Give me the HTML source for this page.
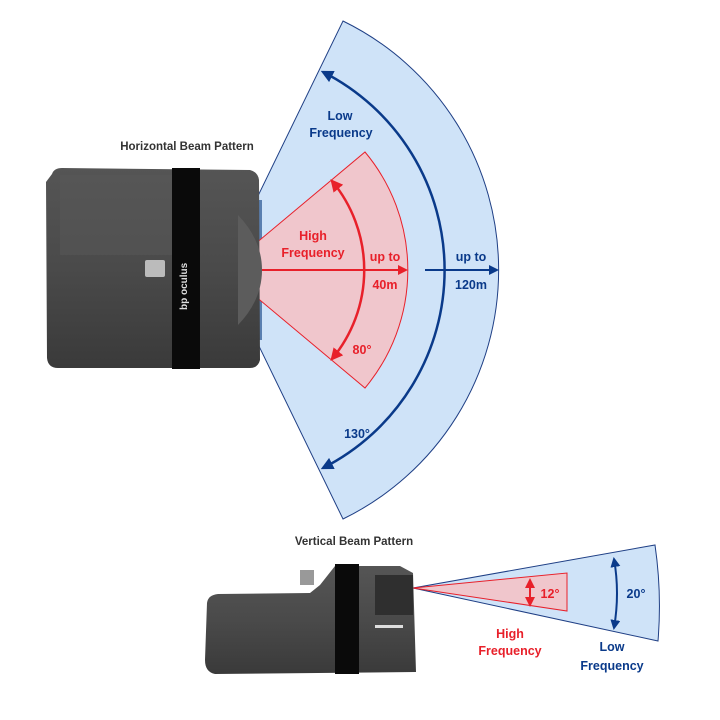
<!DOCTYPE html>
<html><head><meta charset="utf-8"><style>
html,body{margin:0;padding:0;background:#fff;}
svg{display:block;font-family:"Liberation Sans",sans-serif;font-weight:bold;}
</style></head><body>
<svg width="720" height="720" viewBox="0 0 720 720">
<defs>
<marker id="ab" viewBox="0 0 10 10" refX="8" refY="5" markerWidth="5" markerHeight="5" orient="auto-start-reverse"><path d="M0,0 L10,5 L0,10 z" fill="#0a3a8a"/></marker>
<marker id="ar" viewBox="0 0 10 10" refX="8" refY="5" markerWidth="5" markerHeight="5" orient="auto-start-reverse"><path d="M0,0 L10,5 L0,10 z" fill="#e8202a"/></marker>
<linearGradient id="dev" x1="0" y1="0" x2="0" y2="1"><stop offset="0" stop-color="#555"/><stop offset="0.5" stop-color="#4a4a4a"/><stop offset="1" stop-color="#3a3a3a"/></linearGradient>
</defs>
<path d="M222,270 L343,21 A277,277 0 0 1 343,519 Z" fill="#cfe3f8" stroke="#1f3f85" stroke-width="1"/>
<path d="M240,200 L262,200 L262,340 L240,340 Z" fill="#5a7fb0"/>
<path d="M224,270 L365,152 A184,184 0 0 1 365,388 Z" fill="#f0c6cc" stroke="#e8202a" stroke-width="1"/>
<path d="M323,72 A222,222 0 0 1 323,468" fill="none" stroke="#0a3a8a" stroke-width="2.5" marker-start="url(#ab)" marker-end="url(#ab)"/>
<path d="M332,181 A139,139 0 0 1 332,359" fill="none" stroke="#e8202a" stroke-width="2.5" marker-start="url(#ar)" marker-end="url(#ar)"/>
<line x1="262" y1="270" x2="406" y2="270" stroke="#e8202a" stroke-width="2" marker-end="url(#ar)"/>
<line x1="425" y1="270" x2="497" y2="270" stroke="#0a3a8a" stroke-width="2" marker-end="url(#ab)"/>
<g fill="#0a3a8a" font-size="12.5" text-anchor="middle">
<text x="340" y="120">Low</text><text x="341" y="137">Frequency</text>
<text x="471" y="261">up to</text><text x="471" y="289">120m</text>
<text x="357" y="438">130°</text>
</g>
<g fill="#e8202a" font-size="12.5" text-anchor="middle">
<text x="313" y="240">High</text><text x="313" y="257">Frequency</text>
<text x="385" y="261">up to</text><text x="385" y="289">40m</text>
<text x="362" y="354">80°</text>
</g>
<text x="187" y="150" font-size="11.5" fill="#333" text-anchor="middle">Horizontal Beam Pattern</text>
<path d="M52,174 Q54,168 62,168 L250,170 Q258,172 259,180 L260,360 Q258,368 250,368 L58,368 Q48,368 47,358 L46,182 Z" fill="url(#dev)"/>
<rect x="60" y="175" width="115" height="80" fill="#585858" opacity="0.5"/>
<rect x="172" y="168" width="28" height="201" fill="#0a0a0a"/>
<path d="M238,215 Q262,240 262,270 Q262,300 238,325 Z" fill="#5c5c5c"/>
<rect x="145" y="260" width="20" height="17" fill="#bbb" rx="2"/>
<text transform="translate(187,310) rotate(-90)" font-size="10" fill="#ddd">bp  oculus</text>
<path d="M413,588 L655,545 Q662,593 658,641 Z" fill="#cfe3f8" stroke="#1f3f85" stroke-width="1"/>
<path d="M413,588 L567,573 L567,611 Z" fill="#f0c6cc" stroke="#e8202a" stroke-width="1"/>
<line x1="530" y1="580" x2="530" y2="605" stroke="#e8202a" stroke-width="2" marker-start="url(#ar)" marker-end="url(#ar)"/>
<path d="M614,559 Q620,593 614,628" fill="none" stroke="#0a3a8a" stroke-width="2" marker-start="url(#ab)" marker-end="url(#ab)"/>
<text x="550" y="598" font-size="12.5" fill="#e8202a" text-anchor="middle">12°</text>
<text x="636" y="598" font-size="12.5" fill="#0a3a8a" text-anchor="middle">20°</text>
<g font-size="12.5" text-anchor="middle">
<text x="510" y="638" fill="#e8202a">High</text><text x="510" y="655" fill="#e8202a">Frequency</text>
<text x="612" y="651" fill="#0a3a8a">Low</text><text x="612" y="670" fill="#0a3a8a">Frequency</text>
</g>
<text x="354" y="545" font-size="11.5" fill="#333" text-anchor="middle">Vertical Beam Pattern</text>
<rect x="300" y="570" width="14" height="15" fill="#999"/>
<path d="M320,585 L335,566 L400,566 L413,573 L416,672 L215,674 Q205,672 205,660 L207,603 Q208,595 218,594 L310,593 Z" fill="url(#dev)"/>
<rect x="335" y="564" width="24" height="110" fill="#0a0a0a"/>
<rect x="375" y="575" width="38" height="40" fill="#2f2f2f"/>
<rect x="375" y="625" width="28" height="3" fill="#ddd"/>
</svg>
</body></html>
